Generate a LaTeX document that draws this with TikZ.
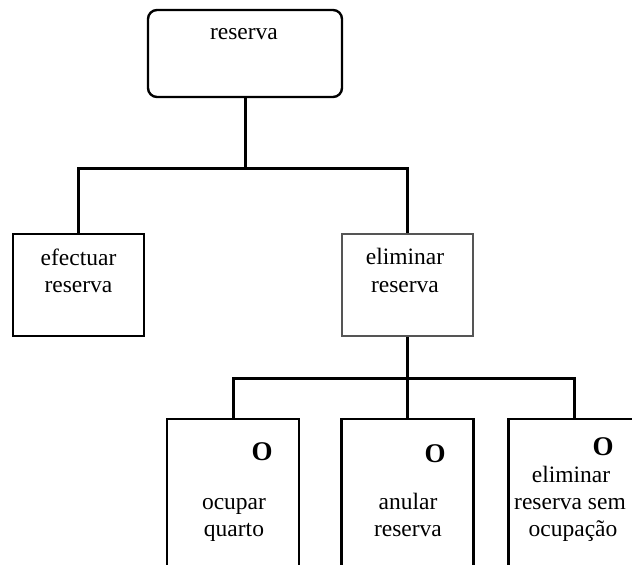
\documentclass[tikz,border=0pt]{standalone}
\usepackage{fontspec}
\setmainfont{Liberation Serif}
\definecolor{boxgray}{RGB}{85,85,85}
\begin{document}
\begin{tikzpicture}[x=1pt,y=-1pt,
  box/.style={draw, line width=2.4pt, inner sep=0pt, minimum width=131pt, minimum height=102pt},
  rootbox/.style={box, rounded corners=9pt, minimum width=194pt, minimum height=87pt},
  greybox/.style={box, draw=boxgray, line width=2pt},
  leafbox/.style={box, minimum width=132pt, minimum height=181pt},
  lbl/.style={anchor=base, inner sep=0pt, font=\fontsize{23.5}{27}\selectfont},
  optmark/.style={anchor=base, inner sep=0pt, font=\fontsize{27}{30}\selectfont\bfseries},
  link/.style={line width=3pt}]
  \clip (0,0) rectangle (632,565);

  % boxes
  \node[rootbox] (root) at (245,53.5) {};
  \node[box] (efect) at (78.5,285) {};
  \node[greybox] (elim) at (407.5,285) {};
  \node[leafbox] (ocup) at (233,509.5) {};
  \node[leafbox] (anul) at (407.5,509.5) {};
  \node[leafbox] (semoc) at (574.5,509.5) {};

  % junctions of the tree
  \coordinate (j1) at (245,168);
  \coordinate (j2) at (407.5,378);

  % connectors
  \draw[link] (root.south) -- (j1);
  \draw[link] (efect.north) |- (j1) -| (elim.north);
  \draw[link] (elim.south) -- (j2) -- (anul.north);
  \draw[link] (ocup.north) |- (j2) -| (semoc.north);

  % labels
  \node[lbl] (t0) at (244,39) {reserva};
  \node[lbl] (t1a) at (78.5,265) {efectuar};
  \node[lbl] (t1b) at (78.5,292) {reserva};
  \node[lbl] (t2a) at (405,264) {eliminar};
  \node[lbl] (t2b) at (405,292) {reserva};
  \node[lbl] (t3a) at (234,509) {ocupar};
  \node[lbl] (t3b) at (234,536) {quarto};
  \node[lbl] (t4a) at (408,509) {anular};
  \node[lbl] (t4b) at (408,536) {reserva};
  \node[lbl] (t5a) at (571,482) {eliminar};
  \node[lbl] (t5b) at (570,509) {reserva sem};
  \node[lbl] (t5c) at (573,536) {ocupação};

  % optional markers
  \node[optmark] (o3) at (262,460) {O};
  \node[optmark] (o4) at (435,462) {O};
  \node[optmark] (o5) at (603,455) {O};
\end{tikzpicture}
\end{document}
